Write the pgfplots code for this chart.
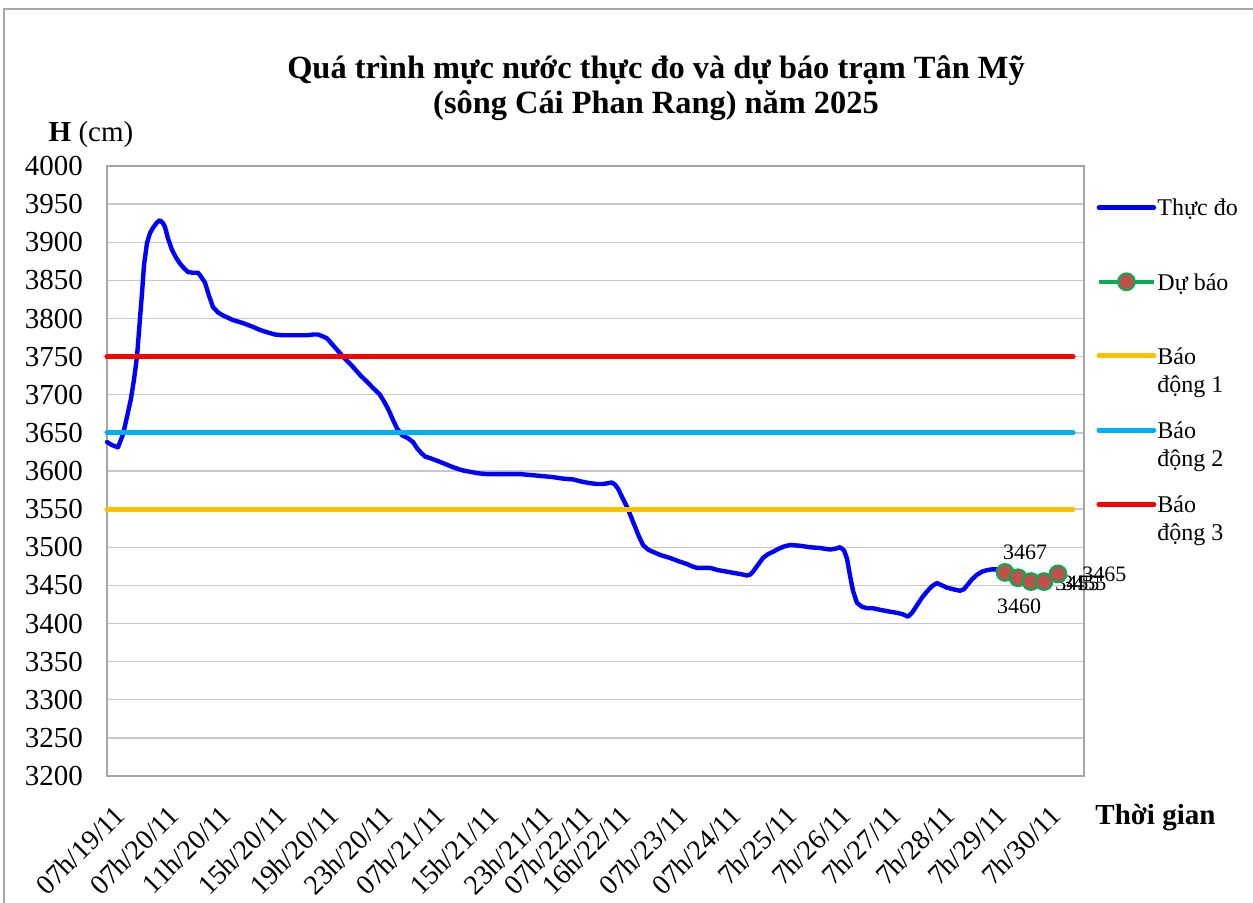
\documentclass[border=0pt]{standalone}
\usepackage{fontspec}
\setmainfont{Liberation Serif}
\usepackage{pgfplots}
\pgfplotsset{compat=1.18}
\definecolor{bdone}{HTML}{FFC000}
\definecolor{bdtwo}{HTML}{00B0F0}
\definecolor{bdthree}{HTML}{FF0000}
\definecolor{fcg}{HTML}{00B050}
\definecolor{fcr}{HTML}{C0504D}
\definecolor{gridc}{HTML}{C8C8C8}
\definecolor{axc}{HTML}{A6A6A6}
\newcommand\lgtxt[2]{\begin{tabular}[t]{@{}l@{}}#1\\#2\end{tabular}}
\begin{document}
\begin{tikzpicture}
\useasboundingbox (-53.5pt,-63pt) rectangle (573pt,388pt);
\draw[axc, line width=0.8pt] (-51.5pt,-70pt) -- (-51.5pt,383.5pt) -- (580pt,383.5pt);
\begin{axis}[
  at={(0,0)}, anchor=south west,
  width=488.5pt, height=305pt, scale only axis,
  xmin=107, xmax=1084, ymin=3200, ymax=4000,
  axis line style={axc, line width=0.9pt},
  ytick={3200,3250,...,4000},
  ymajorgrids, grid style={gridc, line width=0.7pt},
  major tick length=0pt,
  xtick={123,177,229,285,337,391,443,497,551,591,629,686,739,795,849,899,953,1005,1059},
  xticklabels={07h/19/11,07h/20/11,11h/20/11,15h/20/11,19h/20/11,23h/20/11,07h/21/11,15h/21/11,23h/21/11,07h/22/11,16h/22/11,07h/23/11,07h/24/11,7h/25/11,7h/26/11,7h/27/11,7h/28/11,7h/29/11,7h/30/11},
  yticklabel style={font=\fontsize{14.5}{17}\selectfont, xshift=-8.5pt},
  xticklabel style={font=\fontsize{14}{16}\selectfont, xshift=-5pt, yshift=-12pt, rotate=45, anchor=north east, inner sep=1pt},
  /pgf/number format/assume math mode=true,
  /pgf/number format/set thousands separator={},
  clip=false,
  legend cell align=left,
  legend style={at={(1.0123,0.9527)}, anchor=north west, draw=none, fill=none,
    font=\fontsize{12}{14}\selectfont, inner sep=0pt, row sep=24.8pt, column sep=0pt,
    nodes={inner sep=0.5pt}},
  legend image code/.code={\draw[mark repeat=2,mark phase=2,#1] plot coordinates {(0pt,0pt) (13.75pt,0pt) (27.5pt,0pt)};},
]
\addplot[color=blue, line width=2.2pt, line join=round, line cap=round] coordinates {
(107,3638)(112,3634)(118,3631)(123,3648)(127,3671)(131,3695)(134,3720)(137,3750)
(140,3800)(142,3833)(144,3870)(147,3899)(150,3912)(153,3919)(157,3926)(160,3929)
(163,3925)(165,3920)(168,3905)(172,3890)(176,3880)(180,3872)(184,3866)(188,3861)
(193,3860)(198,3860)(201,3855)(205,3847)(209,3830)(213,3815)(218,3808)(223,3804)
(233,3798)(243,3794)(253,3789)(260,3785)(267,3782)(275,3779)(283,3778)(295,3778)
(307,3778)(313,3779)(318,3779)(322,3777)(327,3774)(335,3762)(343,3750)(352,3738)
(360,3726)(367,3717)(373,3709)(380,3700)(385,3689)(389,3679)(393,3667)(397,3656)
(402,3647)(408,3643)(413,3638)(417,3630)(421,3624)(425,3619)(430,3617)(440,3612)
(453,3605)(462,3601)(470,3599)(478,3597)(487,3596)(500,3596)(510,3596)(520,3596)
(528,3595)(537,3594)(545,3593)(553,3592)(563,3590)(573,3589)(582,3586)(590,3584)
(597,3583)(603,3583)(608,3584)(612,3585)(615,3582)(618,3577)(622,3566)(627,3553)
(631,3540)(635,3527)(639,3514)(643,3503)(648,3497)(653,3494)(660,3490)(670,3486)
(678,3482)(687,3478)(692,3475)(697,3473)(703,3473)(710,3473)(718,3470)(727,3468)
(735,3466)(740,3465)(747,3463)(750,3464)(753,3468)(758,3477)(763,3486)(768,3491)
(773,3494)(777,3497)(784,3501)(790,3503)(800,3502)(810,3500)(820,3499)(830,3497)
(835,3498)(840,3500)(844,3496)(847,3485)(850,3463)(853,3443)(857,3427)(862,3422)
(867,3420)(873,3420)(880,3418)(888,3416)(897,3414)(903,3412)(908,3409)(912,3414)
(917,3424)(922,3434)(927,3442)(932,3449)(937,3453)(942,3450)(947,3447)(953,3445)
(960,3443)(964,3445)(967,3450)(972,3458)(977,3464)(982,3468)(987,3470)(992,3471)
(997,3471)(1002,3470)
};
\addlegendentry{\lgtxt{Thực đo}{}}
\addplot[color=fcg, line width=2pt, mark=*, mark size=4.2pt,
  mark options={fill=fcr, draw=fcg, line width=1pt}] coordinates {
(1005,3467)(1018,3460)(1031,3455)(1044,3455)(1058,3465)
};
\addlegendentry{\lgtxt{Dự báo}{}}
\addplot[color=bdone, line width=2.5pt, line cap=round] coordinates {(107,3550)(1073,3550)};
\addlegendentry{\lgtxt{Báo}{động 1}}
\addplot[color=bdtwo, line width=2.5pt, line cap=round] coordinates {(107,3650)(1073,3650)};
\addlegendentry{\lgtxt{Báo}{động 2}}
\addplot[color=bdthree, line width=2.5pt, line cap=round] coordinates {(107,3750)(1073,3750)};
\addlegendentry{\lgtxt{Báo}{động 3}}
% data labels
\node[font=\fontsize{11}{13}\selectfont] at (axis cs:1025,3494) {3467};
\node[font=\fontsize{11}{13}\selectfont] at (axis cs:1019,3423) {3460};
\node[font=\fontsize{11}{13}\selectfont, anchor=west, inner sep=0pt] at (axis cs:1055,3453) {3455};
\node[font=\fontsize{11}{13}\selectfont, anchor=west, inner sep=0pt] at (axis cs:1062,3453) {3455};
\node[font=\fontsize{11}{13}\selectfont, anchor=west, inner sep=0pt] at (axis cs:1082,3464) {3465};
% titles
\node[font=\fontsize{16.2}{17.2}\selectfont\bfseries, align=center] at (axis cs:656,4102) {Quá trình mực nước thực đo và dự báo trạm Tân Mỹ\\(sông Cái Phan Rang) năm 2025};
\node[font=\fontsize{14.5}{17}\selectfont] at (axis cs:91,4041) {\textbf{H} (cm)};
\node[font=\fontsize{14.5}{17}\selectfont\bfseries, anchor=west, inner sep=0pt] at (axis cs:1095,3146) {Thời gian};
\end{axis}
\end{tikzpicture}
\end{document}
